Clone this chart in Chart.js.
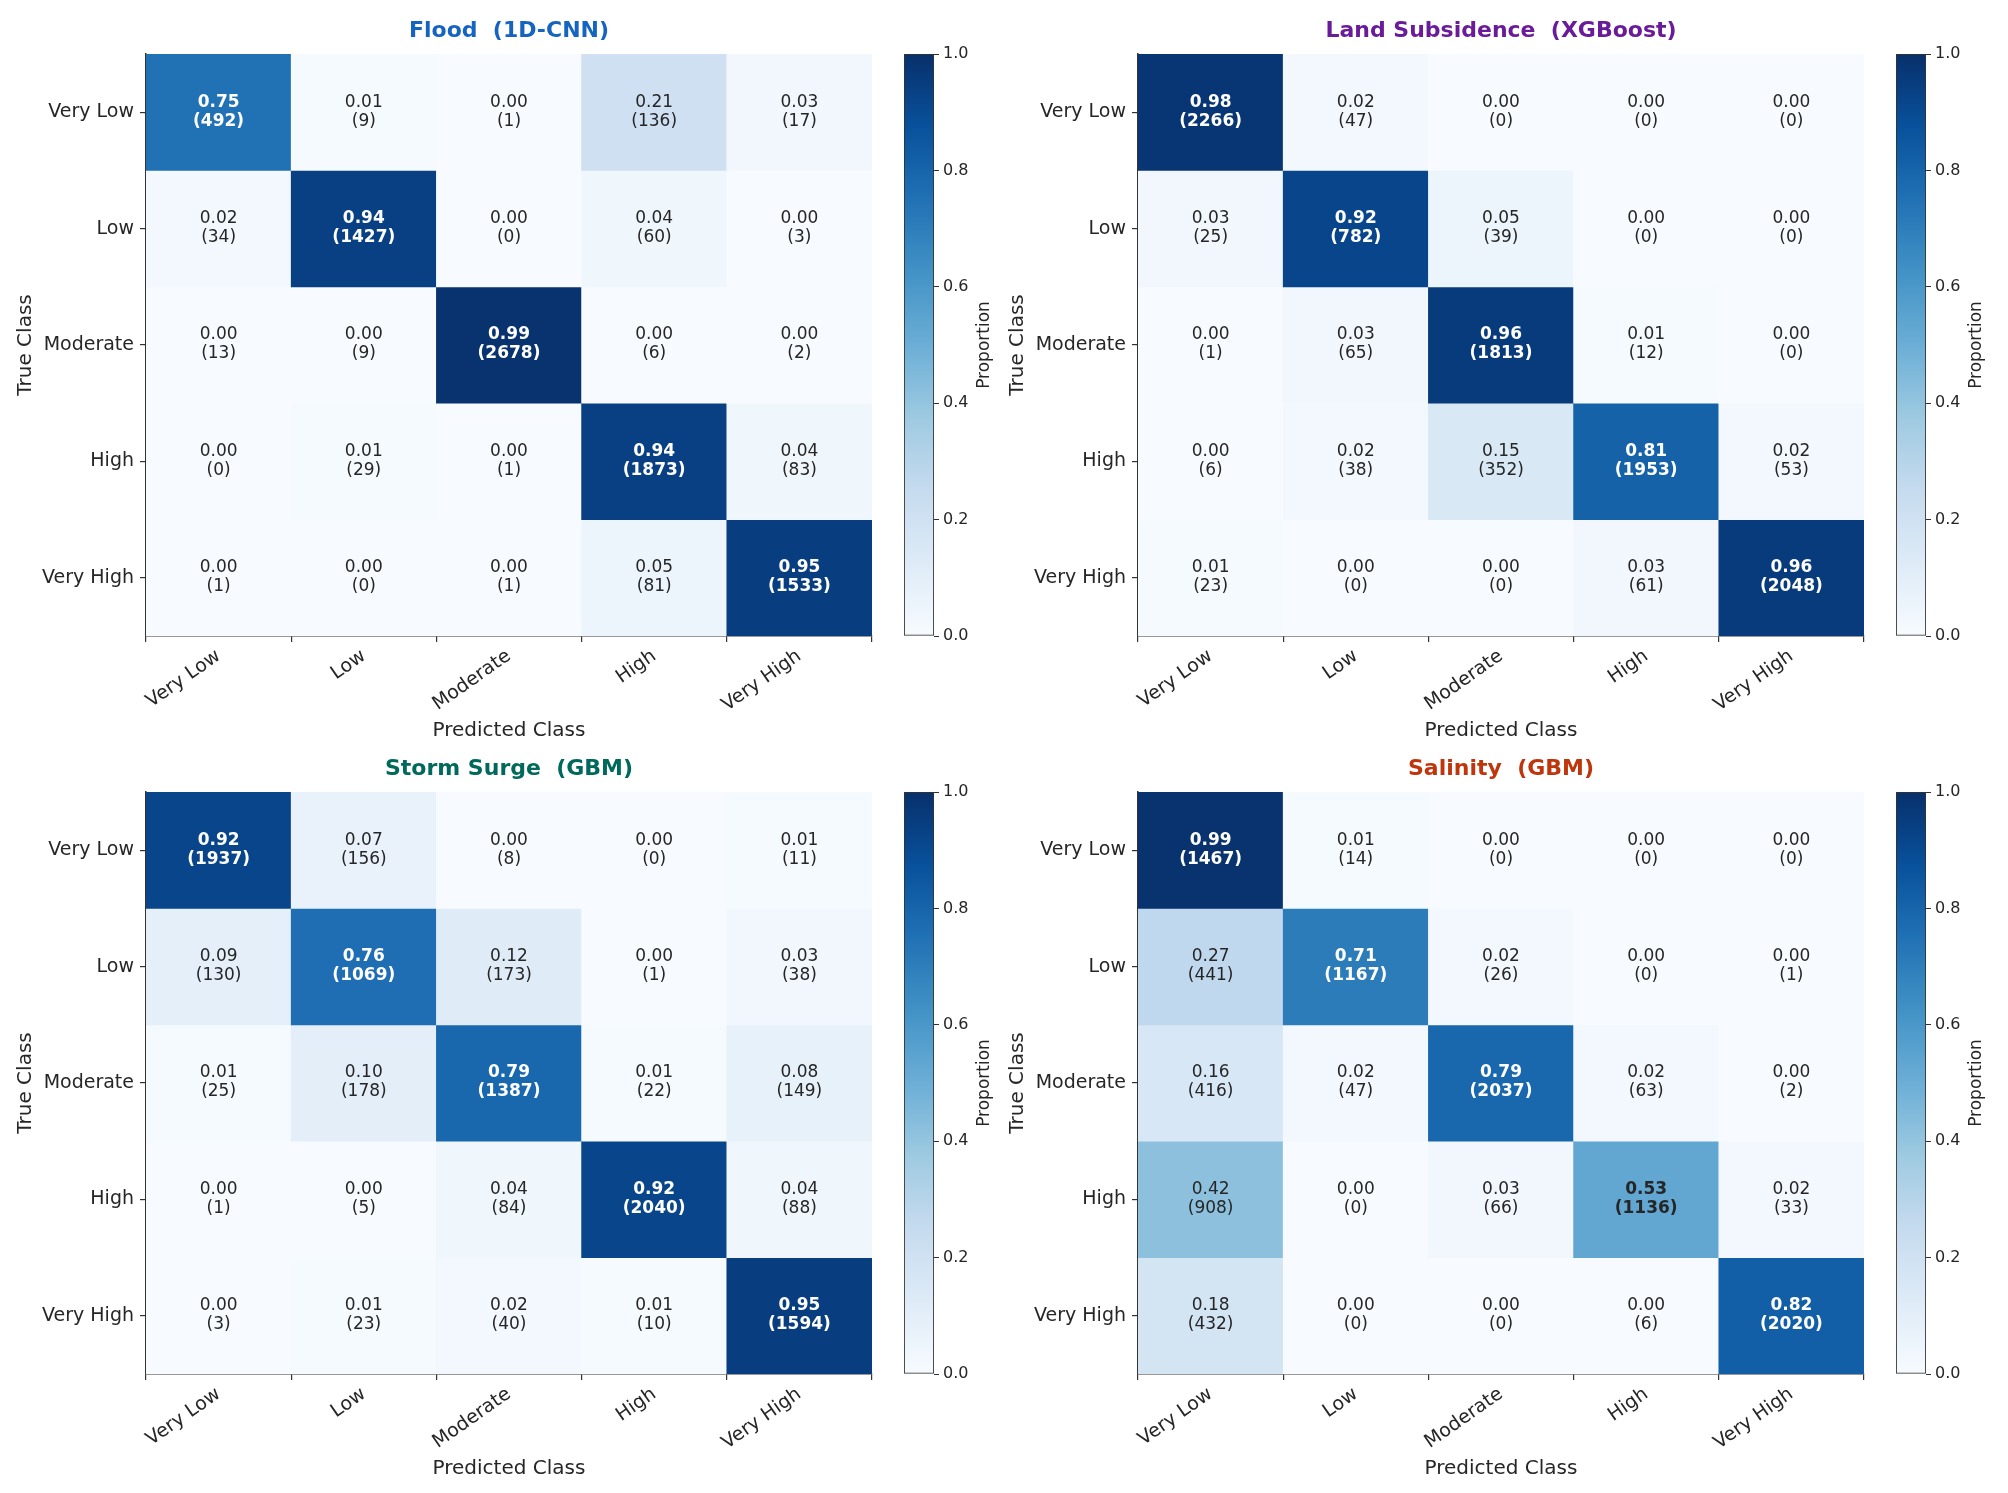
<!DOCTYPE html>
<html>
<head>
<meta charset="utf-8">
<script src="https://cdn.jsdelivr.net/npm/chart.js@4.4.1/dist/chart.umd.min.js"></script>
<style>
  body { margin: 0; background: #fff; width: 2008px; height: 1493px; position: relative; overflow: hidden; }
  .panel { position: absolute; width: 1004px; height: 750px; }
  .panel canvas { position: absolute; top: 0; }
</style>
</head>
<body>
<div class="panel" style="left:0;top:0"><canvas id="main0" width="900" height="750" style="left:0"></canvas><canvas id="cbar0" width="110" height="750" style="left:894px"></canvas></div>
<div class="panel" style="left:992px;top:0"><canvas id="main1" width="900" height="750" style="left:0"></canvas><canvas id="cbar1" width="110" height="750" style="left:894px"></canvas></div>
<div class="panel" style="left:0;top:738px"><canvas id="main2" width="900" height="750" style="left:0"></canvas><canvas id="cbar2" width="110" height="750" style="left:894px"></canvas></div>
<div class="panel" style="left:992px;top:738px"><canvas id="main3" width="900" height="750" style="left:0"></canvas><canvas id="cbar3" width="110" height="750" style="left:894px"></canvas></div>
<script>
const predictedLabels = ['Very Low', 'Low', 'Moderate', 'High', 'Very High'];
const trueLabels = ['Very Low', 'Low', 'Moderate', 'High', 'Very High'];

// Flood (1D-CNN)
const floodProps = [
    [0.75, 0.01, 0.00, 0.21, 0.03],
    [0.02, 0.94, 0.00, 0.04, 0.00],
    [0.00, 0.00, 0.99, 0.00, 0.00],
    [0.00, 0.01, 0.00, 0.94, 0.04],
    [0.00, 0.00, 0.00, 0.05, 0.95]
];
const floodCounts = [
    [492, 9, 1, 136, 17],
    [34, 1427, 0, 60, 3],
    [13, 9, 2678, 6, 2],
    [0, 29, 1, 1873, 83],
    [1, 0, 1, 81, 1533]
];

// Land Subsidence (XGBoost)
const subsidenceProps = [
    [0.98, 0.02, 0.00, 0.00, 0.00],
    [0.03, 0.92, 0.05, 0.00, 0.00],
    [0.00, 0.03, 0.96, 0.01, 0.00],
    [0.00, 0.02, 0.15, 0.81, 0.02],
    [0.01, 0.00, 0.00, 0.03, 0.96]
];
const subsidenceCounts = [
    [2266, 47, 0, 0, 0],
    [25, 782, 39, 0, 0],
    [1, 65, 1813, 12, 0],
    [6, 38, 352, 1953, 53],
    [23, 0, 0, 61, 2048]
];

// Storm Surge (GBM)
const stormProps = [
    [0.92, 0.07, 0.00, 0.00, 0.01],
    [0.09, 0.76, 0.12, 0.00, 0.03],
    [0.01, 0.10, 0.79, 0.01, 0.08],
    [0.00, 0.00, 0.04, 0.92, 0.04],
    [0.00, 0.01, 0.02, 0.01, 0.95]
];
const stormCounts = [
    [1937, 156, 8, 0, 11],
    [130, 1069, 173, 1, 38],
    [25, 178, 1387, 22, 149],
    [1, 5, 84, 2040, 88],
    [3, 23, 40, 10, 1594]
];

// Salinity (GBM)
const salinityProps = [
    [0.99, 0.01, 0.00, 0.00, 0.00],
    [0.27, 0.71, 0.02, 0.00, 0.00],
    [0.16, 0.02, 0.79, 0.02, 0.00],
    [0.42, 0.00, 0.03, 0.53, 0.02],
    [0.18, 0.00, 0.00, 0.00, 0.82]
];
const salinityCounts = [
    [1467, 14, 0, 0, 0],
    [441, 1167, 26, 0, 1],
    [416, 47, 2037, 63, 2],
    [908, 0, 66, 1136, 33],
    [432, 0, 0, 6, 2020]
];

const panels = [
    { title: 'Flood  (1D-CNN)', color: '#1565c0', props: floodProps, counts: floodCounts },
    { title: 'Land Subsidence  (XGBoost)', color: '#6a1b9a', props: subsidenceProps, counts: subsidenceCounts },
    { title: 'Storm Surge  (GBM)', color: '#00695c', props: stormProps, counts: stormCounts },
    { title: 'Salinity  (GBM)', color: '#bf360c', props: salinityProps, counts: salinityCounts }
];

// matplotlib "Blues"
const BLUES = ['#f7fbff', '#deebf7', '#c6dbef', '#9ecae1', '#6baed6', '#4292c6', '#2171b5', '#08519c', '#08306b'];
const FONT = '"DejaVu Sans", sans-serif';
const INK = '#262626';

function hexToRgb(h) {
    return [1, 3, 5].map(i => parseInt(h.substr(i, 2), 16));
}

function blues(v) {
    const t = Math.max(0, Math.min(1, v)) * (BLUES.length - 1);
    const i = Math.min(Math.floor(t), BLUES.length - 2);
    const f = t - i;
    const a = hexToRgb(BLUES[i]), b = hexToRgb(BLUES[i + 1]);
    const c = a.map((x, k) => Math.round(x + (b[k] - x) * f));
    return `rgb(${c[0]}, ${c[1]}, ${c[2]})`;
}

function makeCellPlugin(panel) {
    return {
        id: 'cellText',
        afterDatasetsDraw(chart) {
            const { ctx, chartArea, scales: { x, y } } = chart;
            ctx.save();
            ctx.textAlign = 'center';
            ctx.textBaseline = 'middle';
            panel.props.forEach((row, i) => {
                row.forEach((v, j) => {
                    const cx = x.getPixelForValue(j);
                    const cy = y.getPixelForValue(i + 0.5);
                    ctx.font = (i === j ? 'bold ' : '') + '17px ' + FONT;
                    ctx.fillStyle = v > 0.6 ? '#ffffff' : INK;
                    ctx.fillText(v.toFixed(2), cx, cy - 10);
                    ctx.fillText('(' + panel.counts[i][j] + ')', cx, cy + 9);
                });
            });
            // panel title
            ctx.font = 'bold 22px ' + FONT;
            ctx.fillStyle = panel.color;
            ctx.fillText(panel.title, (chartArea.left + chartArea.right) / 2, chartArea.top - 23);
            ctx.restore();
        }
    };
}

function createMatrix(canvasId, panel) {
    const datasets = trueLabels.map((label, i) => ({
        label: label,
        data: predictedLabels.map(() => [i, i + 1]),
        backgroundColor: panel.props[i].map(v => blues(v)),
        borderWidth: 0,
        barPercentage: 1,
        categoryPercentage: 1,
        grouped: false
    }));

    new Chart(document.getElementById(canvasId), {
        type: 'bar',
        data: { labels: predictedLabels, datasets: datasets },
        options: {
            responsive: false,
            animation: false,
            events: [],
            layout: { padding: { top: 54, right: 28, bottom: 0, left: 0 } },
            scales: {
                x: {
                    afterFit: scale => { scale.height = 114; },
                    grid: { drawOnChartArea: false, drawTicks: true, tickLength: 6, color: '#333', lineWidth: 1.2 },
                    border: { display: true, color: '#333', width: 1.5 },
                    ticks: {
                        font: { family: FONT, size: 19 },
                        color: INK,
                        minRotation: 35,
                        maxRotation: 35,
                        autoSkip: false,
                        padding: 3
                    },
                    title: {
                        display: true,
                        text: 'Predicted Class',
                        font: { family: FONT, size: 20 },
                        color: INK,
                        padding: { top: 0, bottom: 7 }
                    }
                },
                y: {
                    type: 'linear',
                    min: 0,
                    max: 5,
                    reverse: true,
                    afterFit: scale => { scale.width = 146; },
                    afterBuildTicks: scale => {
                        scale.ticks = trueLabels.map((l, i) => ({ value: i + 0.5 }));
                    },
                    grid: { drawOnChartArea: false, drawTicks: true, tickLength: 6, color: '#333', lineWidth: 1.2 },
                    border: { display: true, color: '#333', width: 1.5 },
                    ticks: {
                        font: { family: FONT, size: 19 },
                        color: INK,
                        padding: 6,
                        callback: v => trueLabels[Math.floor(v)]
                    },
                    title: {
                        display: true,
                        text: 'True Class',
                        font: { family: FONT, size: 20 },
                        color: INK,
                        padding: { top: 14, bottom: 0 }
                    }
                }
            },
            plugins: {
                legend: { display: false },
                tooltip: { enabled: false }
            }
        },
        plugins: [makeCellPlugin(panel)]
    });
}

const proportionLabel = {
    id: 'proportionLabel',
    afterDraw(chart) {
        const { ctx, chartArea } = chart;
        ctx.save();
        ctx.translate(chartArea.right + 51, (chartArea.top + chartArea.bottom) / 2);
        ctx.rotate(-Math.PI / 2);
        ctx.textAlign = 'center';
        ctx.textBaseline = 'middle';
        ctx.font = '17px ' + FONT;
        ctx.fillStyle = INK;
        ctx.fillText('Proportion', 0, 0);
        ctx.restore();
    }
};

function createColorbar(canvasId) {
    new Chart(document.getElementById(canvasId), {
        type: 'bar',
        data: {
            labels: [''],
            datasets: [{
                data: [[0, 1]],
                backgroundColor: context => {
                    const area = context.chart.chartArea;
                    if (!area) return BLUES[4];
                    const g = context.chart.ctx.createLinearGradient(0, area.bottom, 0, area.top);
                    BLUES.forEach((c, i) => g.addColorStop(i / (BLUES.length - 1), c));
                    return g;
                },
                borderColor: '#333',
                borderWidth: 1.2,
                borderSkipped: false,
                barPercentage: 1,
                categoryPercentage: 1
            }]
        },
        options: {
            responsive: false,
            animation: false,
            events: [],
            layout: { padding: { top: 54, right: 20, bottom: 114, left: 10 } },
            scales: {
                x: { display: false },
                y: {
                    position: 'right',
                    min: 0,
                    max: 1,
                    afterFit: scale => { scale.width = 50; },
                    grid: { drawOnChartArea: false, drawTicks: true, tickLength: 5, color: '#333' },
                    border: { display: false },
                    ticks: {
                        stepSize: 0.2,
                        font: { family: FONT, size: 16 },
                        color: INK,
                        padding: 4,
                        callback: v => v.toFixed(1)
                    }
                }
            },
            plugins: {
                legend: { display: false },
                tooltip: { enabled: false }
            }
        },
        plugins: [proportionLabel]
    });
}

panels.forEach((p, i) => {
    createMatrix('main' + i, p);
    createColorbar('cbar' + i);
});
</script>
</body>
</html>
